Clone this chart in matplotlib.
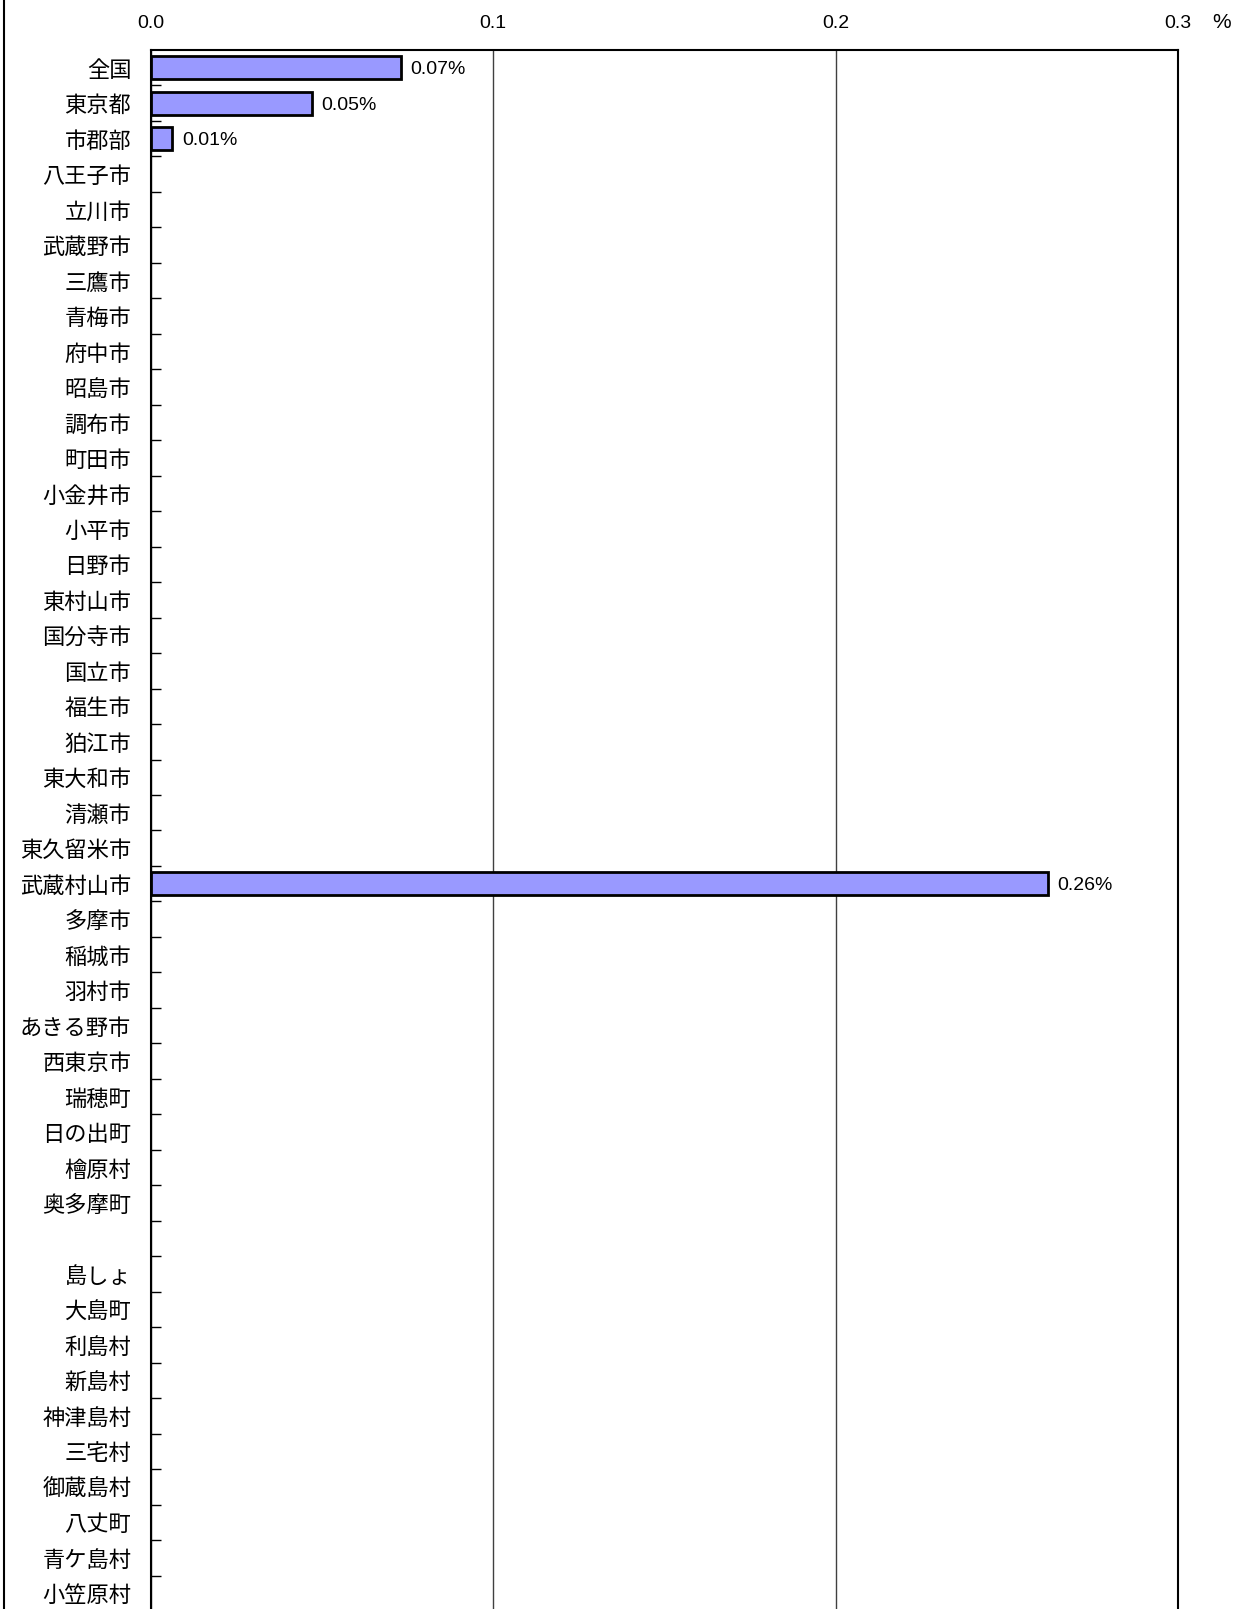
import matplotlib
matplotlib.use("Agg")
import matplotlib.pyplot as plt
from matplotlib.lines import Line2D
from matplotlib.ticker import FixedLocator

categories = ["全国", "東京都", "市郡部", "八王子市", "立川市", "武蔵野市", "三鷹市", "青梅市",
              "府中市", "昭島市", "調布市", "町田市", "小金井市", "小平市", "日野市", "東村山市",
              "国分寺市", "国立市", "福生市", "狛江市", "東大和市", "清瀬市", "東久留米市",
              "武蔵村山市", "多摩市", "稲城市", "羽村市", "あきる野市", "西東京市", "瑞穂町",
              "日の出町", "檜原村", "奥多摩町", "", "島しょ", "大島町", "利島村", "新島村",
              "神津島村", "三宅村", "御蔵島村", "八丈町", "青ケ島村", "小笠原村"]
values = [0.073, 0.047, 0.0063, 0, 0, 0, 0, 0,
          0, 0, 0, 0, 0, 0, 0, 0,
          0, 0, 0, 0, 0, 0, 0,
          0.262, 0, 0, 0, 0, 0, 0,
          0, 0, 0, 0, 0, 0, 0, 0,
          0, 0, 0, 0, 0, 0]
value_labels = ["0.07%", "0.05%", "0.01%"] + [""] * 20 + ["0.26%"] + [""] * 20
xticks = [0.0, 0.1, 0.2, 0.3]
xtick_labels = ["0.0", "0.1", "0.2", "0.3"]

W, H = 1243, 1609
fig = plt.figure(figsize=(W / 100, H / 100), dpi=100)
left, right, top, bottom = 150.7, 1178, 50, 1611
ax = fig.add_axes([left / W, 1 - bottom / H, (right - left) / W, (bottom - top) / H])

cjk = ["Noto Sans CJK JP", "DejaVu Sans"]
num = ["Liberation Sans", "DejaVu Sans"]
narrow = ["Liberation Sans Narrow", "Liberation Sans", "DejaVu Sans"]

n = len(categories)
ypos = list(range(n))
lws = [2 if v > 0 else 0 for v in values]
ax.barh(ypos, values, height=0.65, color="#9999FF", edgecolor="black", linewidth=lws, zorder=3)

for y, v, lab in zip(ypos, values, value_labels):
    if lab:
        ax.annotate(lab, (v, y), xytext=(7, 0), textcoords="offset points",
                    va="center_baseline", ha="left", fontsize=14, family=narrow)

ax.set_xlim(0, 0.3)
ax.set_ylim(n - 0.5, -0.5)

ax.set_xticks(xticks)
ax.set_xticklabels(xtick_labels, family=num, fontsize=14)
ax.xaxis.tick_top()
ax.tick_params(axis="x", length=0, pad=13)
ax.grid(axis="x", color="#404040", linewidth=1, zorder=0)

ax.set_yticks(ypos)
ax.set_yticklabels(categories, family=cjk, fontsize=16)
ax.tick_params(axis="y", which="major", length=0, pad=14)
ax.yaxis.set_minor_locator(FixedLocator([i + 0.5 for i in range(n)]))
ax.tick_params(axis="y", which="minor", direction="in", length=7, width=1, color="black")

for s in ["top", "left", "right"]:
    ax.spines[s].set_linewidth(1.5)
    ax.spines[s].set_color("black")
ax.spines["bottom"].set_visible(False)

fig.text(1222 / W, 1 - 22 / H, "%", ha="center", va="center", fontsize=15, family=num)
fig.add_artist(Line2D([4 / W, 4 / W], [0, 1], transform=fig.transFigure, color="black", linewidth=1.5))

fig.savefig("out.png", dpi=100)
